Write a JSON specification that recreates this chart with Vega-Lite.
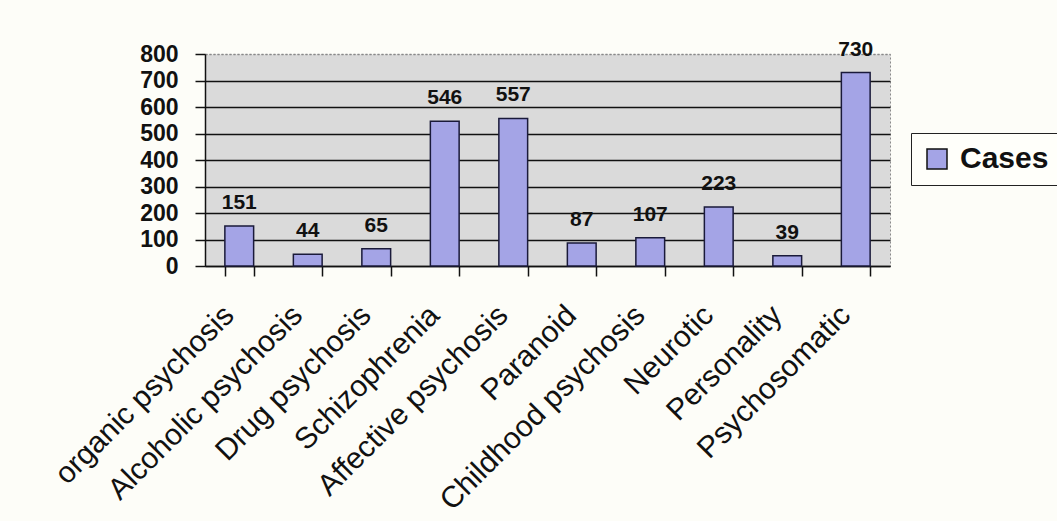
{
  "$schema": "https://vega.github.io/schema/vega-lite/v6.json",
  "autosize": {"type": "none"},
  "padding": {"left": 205, "top": 54, "right": 167, "bottom": 255},
  "width": 685,
  "height": 212,
  "background": "#fdfdf8",
  "data": {"values": [
    {"category": "organic psychosis", "cases": 151},
    {"category": "Alcoholic psychosis", "cases": 44},
    {"category": "Drug psychosis", "cases": 65},
    {"category": "Schizophrenia", "cases": 546},
    {"category": "Affective psychosis", "cases": 557},
    {"category": "Paranoid", "cases": 87},
    {"category": "Childhood psychosis", "cases": 107},
    {"category": "Neurotic", "cases": 223},
    {"category": "Personality", "cases": 39},
    {"category": "Psychosomatic", "cases": 730}
  ]},
  "encoding": {
    "x": {
      "field": "category", "type": "nominal", "sort": null,
      "scale": {"paddingInner": 0.58, "paddingOuter": 0.29},
      "axis": {
        "title": null, "labelAngle": -45, "labelAlign": "right", "labelBaseline": "bottom",
        "labelFontSize": 30, "labelFont": "Liberation Sans",
        "labelColor": "#111", "tickBand": "extent", "tickSize": 10, "tickColor": "#111",
        "domainColor": "#111", "domainWidth": 1.5, "tickWidth": 1.5, "labelPadding": 45,
        "grid": false, "labelLimit": 400, "labelOverlap": false
      }
    },
    "y": {
      "field": "cases", "type": "quantitative",
      "scale": {"domain": [0, 800], "nice": false},
      "axis": {
        "title": null, "values": [0, 100, 200, 300, 400, 500, 600, 700, 800],
        "labelOverlap": false,
        "labelFontSize": 23, "labelFontWeight": "bold", "labelFont": "Liberation Sans",
        "labelColor": "#111", "tickSize": 10, "tickColor": "#111", "tickWidth": 1.5,
        "domainColor": "#111", "domainWidth": 1.5, "labelPadding": 17,
        "grid": true,
        "gridColor": {"condition": {"test": "datum.value == 800", "value": "#8a8a8a"}, "value": "#111"},
        "gridDash": {"condition": {"test": "datum.value == 800", "value": [2, 2]}, "value": []},
        "gridWidth": 1.5
      }
    }
  },
  "layer": [
    {
      "mark": {"type": "bar", "stroke": "#1a1a3a", "strokeWidth": 1.5},
      "encoding": {
        "color": {
          "datum": "Cases",
          "scale": {"range": ["#a4a4e6"]},
          "legend": {
            "title": null, "orient": "none", "legendX": 706, "legendY": 79,
            "symbolType": "square", "symbolSize": 400, "symbolStrokeColor": "#111",
            "symbolStrokeWidth": 1.5, "labelFontSize": 30, "labelFontWeight": "bold",
            "labelFont": "Liberation Sans", "labelColor": "#111",
            "strokeColor": "#222", "fillColor": "#fffffa", "padding": 11, "labelOffset": 8
          }
        }
      }
    },
    {
      "mark": {"type": "text", "baseline": "alphabetic", "dy": -17, "fontSize": 21,
               "fontWeight": "bold", "font": "Liberation Sans", "color": "#111"},
      "encoding": {"text": {"field": "cases", "type": "quantitative"}}
    }
  ],
  "config": {
    "view": {"fill": "#dadada", "stroke": "#8a8a8a", "strokeDash": [2, 2]}
  }
}
